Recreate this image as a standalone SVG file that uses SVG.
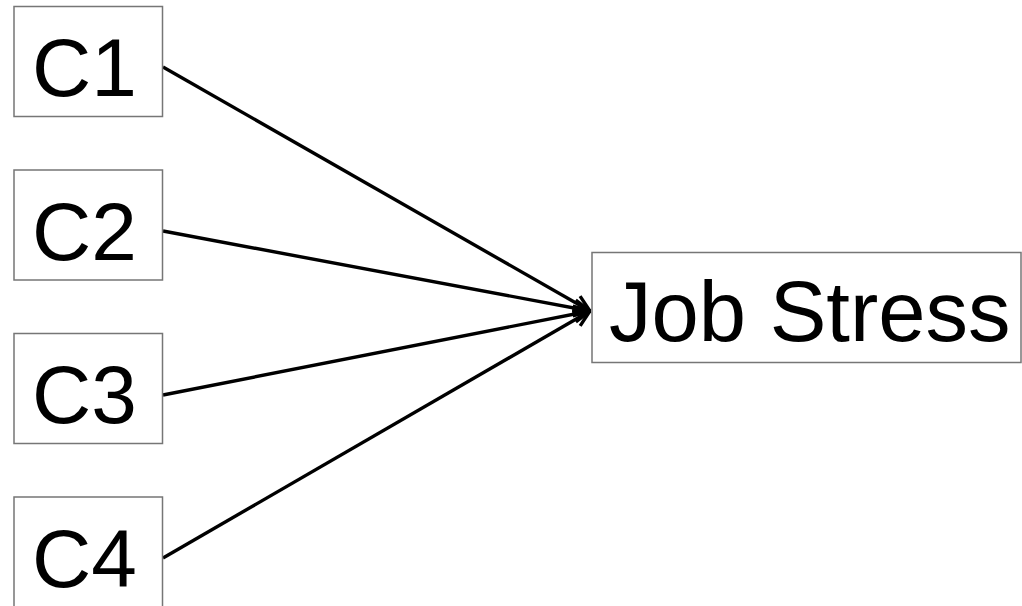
<svg xmlns="http://www.w3.org/2000/svg" width="1022" height="606" viewBox="0 0 1022 606">
  <style>
    .box { fill: #ffffff; stroke: #767676; stroke-width: 1.5; }
    .lbl { font-family: "Liberation Sans", Arial, sans-serif; font-size: 82px; fill: #000000; }
    .big { font-size: 85px; }
    .edge { fill: none; stroke: #000000; stroke-width: 3.4; marker-end: url(#arrow); }
  </style>
  <defs>
    <marker id="arrow" viewBox="0 0 20 20" refX="19" refY="10" markerWidth="20" markerHeight="20" markerUnits="userSpaceOnUse" orient="auto">
      <path d="M3,2 L19,10 L3,18" fill="none" stroke="#000000" stroke-width="3.4"/>
    </marker>
  </defs>
  <rect width="1022" height="606" fill="#ffffff"/>

  <g id="connectors">
    <line class="edge" x1="163" y1="67" x2="590" y2="311"/>
    <line class="edge" x1="163" y1="231" x2="590" y2="311"/>
    <line class="edge" x1="163" y1="395" x2="590" y2="311"/>
    <line class="edge" x1="163" y1="558" x2="590" y2="311"/>
  </g>

  <g id="c1">
    <rect class="box" x="14" y="6.5" width="148.5" height="110"/>
    <text class="lbl" x="32" y="96">C1</text>
  </g>
  <g id="c2">
    <rect class="box" x="14" y="170" width="148.5" height="110"/>
    <text class="lbl" x="32" y="259.5">C2</text>
  </g>
  <g id="c3">
    <rect class="box" x="14" y="333.5" width="148.5" height="110"/>
    <text class="lbl" x="32" y="423">C3</text>
  </g>
  <g id="c4">
    <rect class="box" x="14" y="497" width="148.5" height="112"/>
    <text class="lbl" x="32" y="586.5">C4</text>
  </g>
  <g id="job-stress">
    <rect class="box" x="592" y="252.5" width="429" height="110"/>
    <text class="lbl big" x="609" y="341">Job Stress</text>
  </g>
</svg>
